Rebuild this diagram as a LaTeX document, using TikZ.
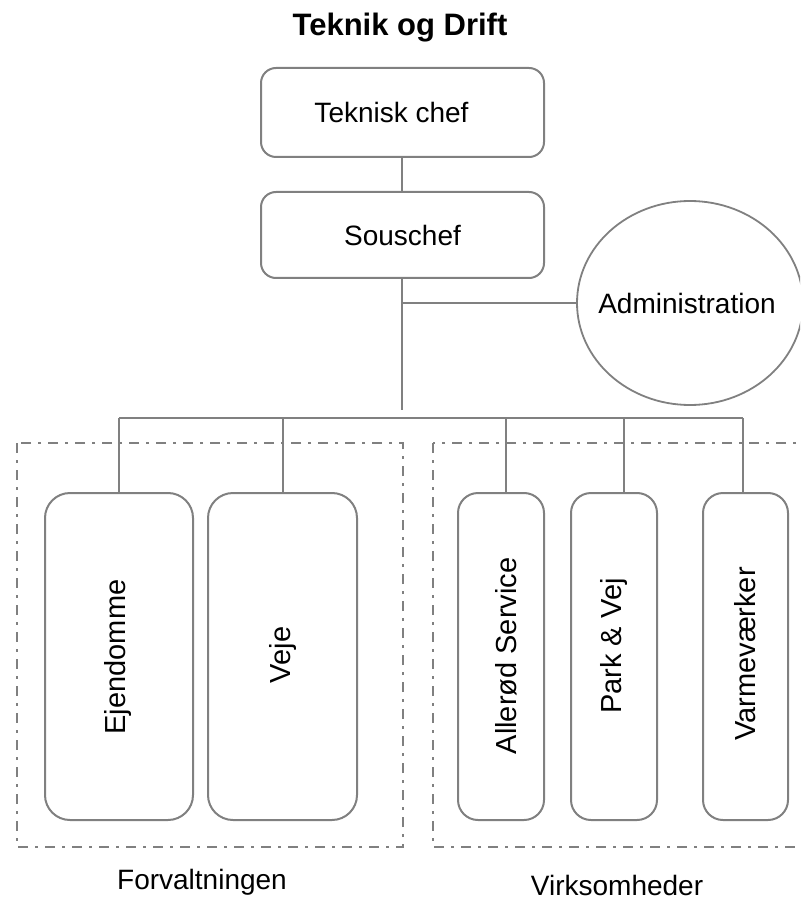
\documentclass[tikz,border=0pt]{standalone}
\usepackage{fontspec}
\setmainfont{Liberation Sans}
\usetikzlibrary{shapes.geometric}
\definecolor{linegray}{RGB}{128,128,128}
\begin{document}
\begin{tikzpicture}[x=0.5pt,y=-0.5pt,
  conn/.style={draw=linegray, line width=0.8pt},
  topbox/.style={draw=linegray, line width=1pt, rounded corners=7.5pt, inner sep=0pt,
    minimum width=141.5pt, font=\fontsize{14}{16}\selectfont},
  bigbox/.style={draw=linegray, line width=1pt, rounded corners=12.5pt, inner sep=0pt,
    minimum width=74pt, minimum height=163.5pt},
  smallbox/.style={draw=linegray, line width=1pt, rounded corners=10pt, inner sep=0pt,
    minimum width=43pt, minimum height=163.5pt},
  vtext/.style={rotate=90, font=\fontsize{14.5}{16}\selectfont, inner sep=0pt},
  grouplabel/.style={font=\fontsize{14}{16}\selectfont, inner sep=0pt},
  groupframe/.style={draw=linegray, line width=1pt, dash pattern=on 5pt off 3.5pt on 1.5pt off 3.5pt},
]
\useasboundingbox (0,0) rectangle (800,898);
\clip (0,0) rectangle (800,898);

% title
\node[font=\fontsize{15.5}{18}\selectfont\bfseries, inner sep=0pt] (title) at (400,28) {Teknik og Drift};

% top boxes
\node[topbox, minimum height=44.5pt] (tc) at (402.5,112.5) {\hspace*{-11pt}Teknisk chef};
\node[topbox, minimum height=43pt] (sc) at (402.5,235) {Souschef};

% administration
\node[ellipse, draw=linegray, line width=0.9pt, minimum width=113pt, minimum height=102pt,
  inner sep=0pt] (adm) at (690,303) {};
\node[font=\fontsize{14}{16}\selectfont, inner sep=0pt] (admt) at (687,303) {Administration};

% group frames
\draw[groupframe] (17,443) rectangle (403,847);
\draw[groupframe] (433,443) rectangle (840,847);
\node[grouplabel] (forv) at (202,882) {Forvaltningen};
\node[grouplabel] (virk) at (617,885) {Virksomheder};

% unit boxes
\node[bigbox] (ej) at (119,656.5) {};
\node[bigbox, minimum width=74.5pt] (vj) at (282.5,656.5) {};
\node[smallbox] (al) at (501,656.5) {};
\node[smallbox] (pv) at (614,656.5) {};
\node[smallbox, minimum width=42.5pt] (vv) at (745.5,656.5) {};

\node[vtext] (ejt) at (118,657) {Ejendomme};
\node[vtext] (vjt) at (283,655) {Veje};
\node[vtext] (alt) at (506,656) {Allerød Service};
\node[vtext] (pvt) at (614,646) {Park \& Vej};
\node[vtext] (vvt) at (745,654) {Varmeværker};

% connectors
\coordinate (stemend) at (402,410);
\coordinate (admjoin) at (402,303);
\coordinate (busL) at (119,418);
\coordinate (busR) at (743,418);
\coordinate (bVj) at (283,418);
\coordinate (bAl) at (506,418);
\coordinate (bPv) at (624,418);

\draw[conn] (tc.south -| admjoin) -- (sc.north -| admjoin);
\draw[conn] (sc.south -| admjoin) -- (stemend);
\draw[conn] (admjoin) -- (adm.west);
\draw[conn] (busL) -- (busR);
\draw[conn] (busL) -- (busL |- ej.north);
\draw[conn] (bVj) -- (bVj |- vj.north);
\draw[conn] (bAl) -- (bAl |- al.north);
\draw[conn] (bPv) -- (bPv |- pv.north);
\draw[conn] (busR) -- (busR |- vv.north);
\end{tikzpicture}
\end{document}
